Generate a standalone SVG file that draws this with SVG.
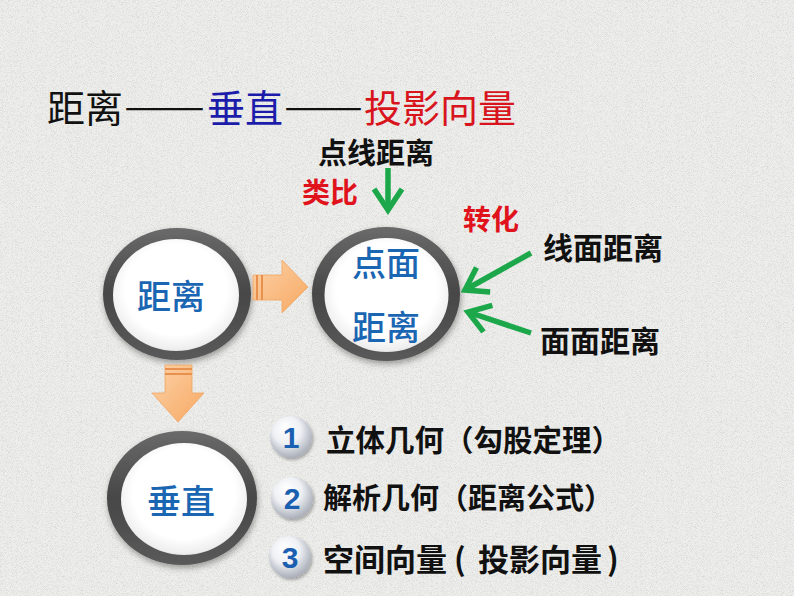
<svg xmlns="http://www.w3.org/2000/svg" width="794" height="596" viewBox="0 0 794 596">
<defs>
<style>
.cjk{font-family:"Noto Sans CJK SC","Noto Sans",sans-serif}
.lbl{font-family:"Noto Sans CJK SC",sans-serif;font-weight:700;fill:#111}
.red{font-family:"Noto Sans CJK SC",sans-serif;font-weight:700;fill:#e0121c}
.ctext{font-family:"Noto Sans CJK SC",sans-serif;font-weight:500;fill:#1a66b2;font-size:34px;text-anchor:middle}
.num{font-family:"Liberation Sans",Arial,sans-serif;font-weight:700;fill:#1a5fb0;font-size:30px;text-anchor:middle}
.item{font-family:"Noto Sans CJK SC",sans-serif;font-weight:700;fill:#111}
.green{stroke:#1ca84a;stroke-width:5.5;fill:none;marker-end:url(#chev)}
.ring{fill:url(#ringG);filter:url(#shadow)}
.face{fill:url(#faceG)}
.orange{fill:url(#orG);stroke:#f0a463;stroke-width:0.8}
.stripe{fill:#e8904e}
.ball{fill:url(#ballG);filter:url(#bshadow)}
</style>
<filter id="noise" x="0" y="0" width="100%" height="100%">
<feTurbulence type="fractalNoise" baseFrequency="1.2" numOctaves="2" seed="7" result="t"/>
<feColorMatrix in="t" type="matrix" values="0 0 0 0 0.6  0 0 0 0 0.6  0 0 0 0 0.58  2.4 0 0 0 -1.05"/>
</filter>
<filter id="shadow" x="-20%" y="-20%" width="140%" height="140%">
<feDropShadow dx="1" dy="3" stdDeviation="3" flood-color="#000" flood-opacity="0.35"/>
</filter>
<filter id="bshadow" x="-30%" y="-30%" width="160%" height="160%">
<feDropShadow dx="1.5" dy="2" stdDeviation="1.5" flood-color="#000" flood-opacity="0.3"/>
</filter>
<linearGradient id="ringG" x1="0" y1="0" x2="0" y2="1">
<stop offset="0" stop-color="#6a6a6a"/>
<stop offset="0.5" stop-color="#474747"/>
<stop offset="1" stop-color="#5a5a5a"/>
</linearGradient>
<radialGradient id="faceG" cx="50%" cy="45%" r="58%">
<stop offset="0.7" stop-color="#ffffff"/>
<stop offset="0.92" stop-color="#eeeeee"/>
<stop offset="1" stop-color="#cfcfcf"/>
</radialGradient>
<linearGradient id="orG" x1="0" y1="0" x2="1" y2="1">
<stop offset="0" stop-color="#fcd2a8"/>
<stop offset="1" stop-color="#f7a862"/>
</linearGradient>
<radialGradient id="ballG" cx="45%" cy="40%" r="60%" fx="35%" fy="25%">
<stop offset="0" stop-color="#ffffff"/>
<stop offset="0.55" stop-color="#eef0f4"/>
<stop offset="1" stop-color="#a9aeb8"/>
</radialGradient>
<marker id="chev" markerUnits="userSpaceOnUse" viewBox="0 0 30 32" refX="25" refY="16" markerWidth="30" markerHeight="32" orient="auto" overflow="visible">
<path d="M4,2 L25,16 L4,30" fill="none" stroke="#1ca84a" stroke-width="5.5" stroke-linejoin="miter"/>
</marker>
</defs>

<rect width="794" height="596" fill="#eeeeec"/>
<rect width="794" height="596" filter="url(#noise)" opacity="0.7"/>

<g id="title">
<text class="cjk" font-size="38" x="47" y="122" fill="#111">距离</text>
<text class="cjk" font-size="38" x="124" y="120" fill="#111" textLength="81" lengthAdjust="spacingAndGlyphs">——</text>
<text class="cjk" font-size="38" x="207" y="122" fill="#1c1cab">垂直</text>
<text class="cjk" font-size="38" x="284" y="120" fill="#111" textLength="79" lengthAdjust="spacingAndGlyphs">——</text>
<text class="cjk" font-size="38" x="364" y="122" fill="#d8141c">投影向量</text>
</g>

<g id="node-juli">
<ellipse class="ring" cx="177" cy="294" rx="74" ry="66"/>
<ellipse class="face" cx="176" cy="295" rx="63" ry="56"/>
<text class="ctext" x="171" y="309">距离</text>
</g>

<g id="node-dianmian">
<ellipse class="ring" cx="386" cy="294" rx="74" ry="67"/>
<ellipse class="face" cx="386.5" cy="295" rx="62" ry="57"/>
<text class="ctext" x="386" y="276">点面</text>
<text class="ctext" x="386" y="340">距离</text>
</g>

<g id="node-chuizhi">
<ellipse class="ring" cx="182" cy="498" rx="75" ry="67"/>
<ellipse class="face" cx="184" cy="499" rx="63" ry="56"/>
<text class="ctext" x="181" y="514">垂直</text>
</g>

<g id="arrow-right">
<path class="orange" d="M253,275 L282,275 L282,260 L308,287 L282,313 L282,300 L253,300 Z"/>
<rect class="stripe" x="256" y="275" width="2" height="25"/>
<rect class="stripe" x="261" y="275" width="2" height="25"/>
</g>

<g id="arrow-down">
<path class="orange" d="M165,365 L192,365 L192,393 L204,393 L178,422 L152,393 L165,393 Z"/>
<rect class="stripe" x="165" y="368" width="27" height="2"/>
<rect class="stripe" x="165" y="373" width="27" height="2"/>
</g>

<g id="connectors">
<line class="green" x1="388" y1="168" x2="388" y2="210"/>
<line class="green" x1="531" y1="253" x2="465" y2="290"/>
<line class="green" x1="531" y1="333" x2="468" y2="312"/>
</g>

<g id="label-dianxian"><text class="lbl" font-size="29" x="318" y="164">点线距离</text></g>
<g id="label-leibi"><text class="red" font-size="28" x="302" y="203">类比</text></g>
<g id="label-zhuanhua"><text class="red" font-size="28" x="463" y="230">转化</text></g>
<g id="label-xianmian"><text class="lbl" font-size="30" x="543" y="259">线面距离</text></g>
<g id="label-mianmian"><text class="lbl" font-size="30" x="540" y="352">面面距离</text></g>

<g id="item-1">
<circle class="ball" cx="291" cy="437" r="21"/>
<text class="num" x="291" y="448">1</text>
<text class="item" font-size="29.5" x="326" y="451">立体几何（勾股定理）</text>
</g>
<g id="item-2">
<circle class="ball" cx="292" cy="498" r="21"/>
<text class="num" x="292" y="509">2</text>
<text class="item" font-size="29" x="323" y="509">解析几何（距离公式）</text>
</g>
<g id="item-3">
<circle class="ball" cx="290" cy="557" r="21"/>
<text class="num" x="290" y="568">3</text>
<text class="item" font-size="31" y="571"><tspan x="323">空间向量</tspan><tspan x="454">(</tspan><tspan x="478">投影向量</tspan><tspan x="607">)</tspan></text>
</g>
</svg>
